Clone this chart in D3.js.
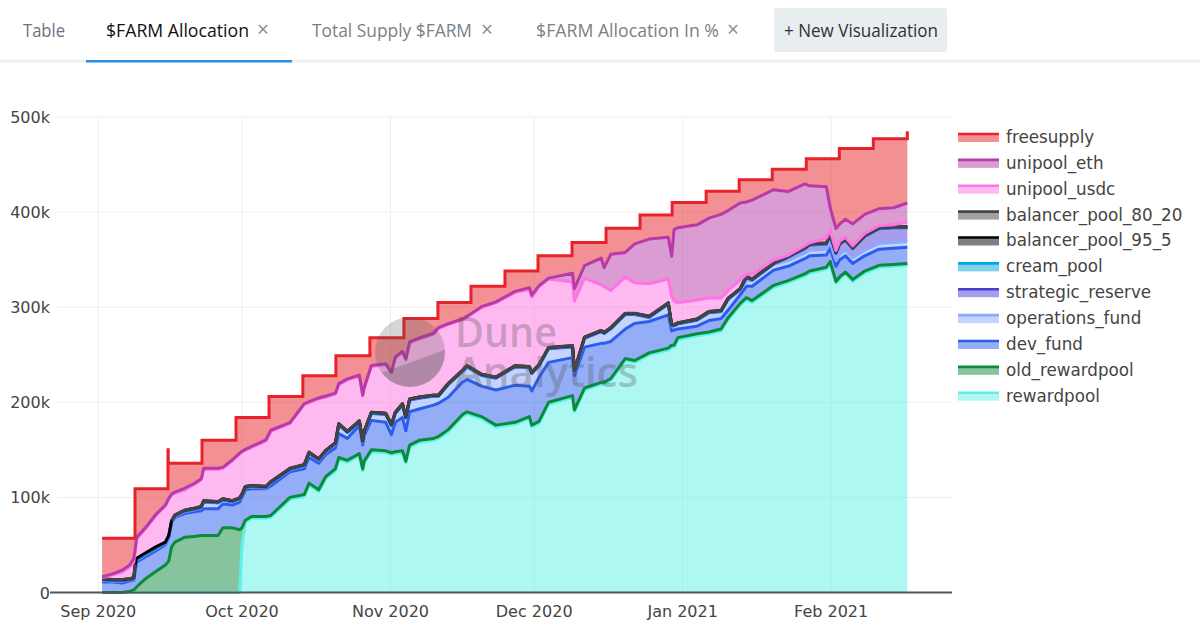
<!DOCTYPE html>
<html>
<head>
<meta charset="utf-8">
<script src="https://cdn.jsdelivr.net/npm/d3@7"></script>
<style>
  html, body { margin: 0; padding: 0; background: #fff; overflow: hidden; }
  svg { display: block; }
</style>
</head>
<body>
<svg id="chart" width="1200" height="629"></svg>
<script>
// values in thousands of $FARM. days = days since 1 Sep 2020
const days = [
  0.8,3,5,6.5,7.4,7.7,8,10,12,14,
  14.7,15.3,16,18,20,21.5,22,25,26,28,
  29.5,30,30.7,32,35,36,40,43,44,46,
  47.5,49.5,50.2,52,54.5,55.2,55.5,57,60,61.2,
  62,63.5,64.2,65,67,70,71,73,76,77,
  80,83,87,90,90.5,92,94,99,99.4,101.5,
  105,105.6,107,110,112,115,119,119.7,120.2,121,
  125,127.5,130,131.5,134,135.3,136.5,141,144,147.5,
  148.5,152,152.8,154,154.8,156,157.5,160,163,166,
  168.9
];
const rewardpool = [
  0,0,0,0,0,0,0,0,0,0,
  0,0,0,0,0,0,0,0,0,0,
  0,50,74,78,78,79,98,101,113,106,
  120,128,140,137,144,128,136,148,147,145,
  146,147,136,153,158,160,162,169,185,188,
  183,174,177,183,174,178,198,205,190,213,
  219,219,223,244,242,250,255,258,258,266,
  270,272,275,287,302,308,305,321,326,333,
  336,340,346,325,330,335,327,336,342,343,
  344
];
const old_rewardpool = [
  0,0,0,1,3,4,6,15,22,29,
  33,48,53,58,59,60,60,60,68,68,
  66,18,2,2,2,2,2,2,2,2,
  2,2,2,2,2,2,2,2,2,2,
  2,2,2,2,2,2,2,2,2,2,
  2,2,2,2,2,2,2,2,2,2,
  2,2,2,2,2,2,2,2,2,2,
  2,2,2,2,2,2,2,2,2,2,
  2,2,2,2,2,2,2,2,2,2,
  2
];
const dev_fund = [
  11,11,10,11,10,18,26,23,22,21,
  25,26,26,25,26,26,28,28,25,24,
  29,32,32,29,29,31,27,27,27,28,
  23,22,25,23,30,25,27,31,30,19,
  31,35,32,35,33,35,35,34,34,34,
  32,37,39,32,36,46,42,40,36,43,
  41,41,39,31,39,33,35,15,16,9,
  8,12,11,8,9,12,15,16,15,16,
  16,13,14,16,18,17,17,16,17,17,
  17
];
const operations_fund = [
  2,1,2,1,1,6,2,2,2,1,
  0,0,1,2,2,3,7,6,4,3,
  3,2,2,2,1,3,2,3,4,3,
  3,4,9,6,3,3,3,7,8,9,
  9,13,13,12,11,9,7,13,11,13,
  11,12,19,19,18,12,14,11,4,9,
  12,10,13,15,9,4,11,5,4,5,
  6,8,7,11,5,6,6,6,6,6,
  6,6,6,6,6,6,6,6,6,6,
  6
];
const strategic_reserve = [
  .5,.5,.5,.5,.5,.5,.5,.5,.5,.5,
  .5,.5,.5,.5,.5,.5,.5,.5,.5,.5,
  .5,.5,.5,.5,.5,.5,.5,.5,.5,.5,
  .5,.5,.5,.5,.5,.5,.5,.5,.5,.5,
  .5,.5,.5,.5,.5,.5,.5,.5,.5,.5,
  .5,.5,.5,.5,.5,.5,.5,.5,.5,.5,
  .5,.5,.5,.5,.5,.5,.5,.5,.5,.5,
  .5,.5,.5,.5,.5,3.5,.5,.5,3.5,4.5,
  5.5,5.5,7.5,7.5,10.5,10.5,9.5,14.5,15.5,15.5,
  14.5
];
const cream_pool = [
  .5,.5,.5,.5,.5,.5,.5,.5,.5,.5,
  .5,.5,.5,.5,.5,.5,.5,.5,.5,.5,
  .5,.5,.5,.5,.5,.5,.5,.5,.5,.5,
  .5,.5,.5,.5,.5,.5,.5,.5,.5,.5,
  .5,.5,.5,.5,.5,.5,.5,.5,.5,.5,
  .5,.5,.5,.5,.5,.5,.5,.5,.5,.5,
  .5,.5,.5,.5,.5,.5,.5,.5,.5,.5,
  .5,.5,.5,.5,.5,.5,.5,.5,.5,.5,
  .5,.5,.5,.5,.5,.5,.5,.5,.5,.5,
  .5
];
const balancer_pool_95_5 = [
  .5,.5,.5,.5,.5,.5,1,1,1,1,
  1,.5,.5,.5,.5,.5,.5,.5,.5,.5,
  .5,.5,.5,.5,.5,.5,.5,.5,.5,.5,
  .5,.5,.5,.5,.5,.5,.5,.5,.5,.5,
  .5,.5,.5,.5,.5,.5,.5,.5,.5,.5,
  .5,.5,.5,.5,.5,.5,.5,.5,.5,.5,
  .5,.5,.5,.5,.5,.5,.5,.5,.5,.5,
  .5,.5,.5,.5,.5,.5,.5,.5,.5,.5,
  .5,.5,.5,.5,.5,.5,.5,.5,.5,.5,
  .5
];
// no 80/20 pool yet for a week in September, so no line there
const balancer_pool_80_20 = [
  .1,.1,.1,.1,.1,.1,null,null,null,null,
  null,.1,.1,.1,.1,.1,.1,.1,.1,.1,
  .1,.1,.1,.1,.1,.1,.1,.1,.1,.1,
  .1,.1,.1,.1,.1,.1,.1,.1,.1,.1,
  .1,.1,.1,.1,.1,.1,.1,.1,.1,.1,
  .1,.1,.1,.1,.1,.1,.1,.1,.1,.1,
  .1,.1,.1,.1,.1,.1,.1,.1,.1,.1,
  .1,.1,.1,.1,.1,.1,.1,.1,.1,.1,
  .1,.1,.1,.1,.1,.1,.1,.1,.1,.1,
  .1
];
const unipool_usdc = [
  1,5,8,12,16,14,20,26,33,38,
  38,27,23,21,25,28,33,34,32,42,
  46,44,38,40,48,53,47,63,52,63,
  56,51,41,54,47,47,45,48,51,54,
  57,54,60,59,61,64,70,62,53,51,
  70,78,77,81,79,82,72,67,73,62,
  48,48,39,38,32,34,25,30,25,21,
  20,14,13,8,9,2,5,3,1,2,
  1,5,4,2,2,2,2,2,2,2,
  5
];
const unipool_eth = [
  1,1,2,2,4,2,2,1,1,1,
  1,1,1,2,1,1,1,1,1,1,
  1,1,1,1,1,1,1,1,1,1,
  1,1,1,1,1,1,1,1,1,1,
  1,1,1,1,1,1,1,1,1,1,
  1,1,1,2,2,1,1,9,13,13,
  28,20,38,26,41,47,44,42,75,79,
  79,84,88,84,81,76,78,74,67,65,
  60,54,24,23,18,19,23,20,18,18,
  20
];
// freesupply is the weekly staircase on top of the stack (running total)
const supplyDays = [
  0.8,7.66,14.55,14.6,21.65,28.75,35.64,42.7,49.6,56.7,63.8,70.9,77.8,
  84.9,91.8,98.9,106,113.1,119.8,126.9,133.8,140.7,147.8,154.7,161.8,168.9
];
const supplyTotal = [
  57,109,150,136,160,184,206,228,249,268,288,305,322,
  338,354,368,383,397,410,422,434,445,456,467,477,485
];

const stackKeys = ["rewardpool","old_rewardpool","dev_fund","operations_fund","strategic_reserve",
  "cream_pool","balancer_pool_95_5","balancer_pool_80_20","unipool_usdc","unipool_eth"];
const stackValues = [rewardpool,old_rewardpool,dev_fund,operations_fund,strategic_reserve,
  cream_pool,balancer_pool_95_5,balancer_pool_80_20,unipool_usdc,unipool_eth];
const legendNames = ["freesupply","unipool_eth","unipool_usdc","balancer_pool_80_20","balancer_pool_95_5",
  "cream_pool","strategic_reserve","operations_fund","dev_fund","old_rewardpool","rewardpool"];
const colors = {
  freesupply: "#e8222a", unipool_eth: "#b83aa8", unipool_usdc: "#ff73e3",
  balancer_pool_80_20: "#444444", balancer_pool_95_5: "#000000", cream_pool: "#00a8e0",
  strategic_reserve: "#4d3bd8", operations_fund: "#8ca8ff", dev_fund: "#2a5cf0",
  old_rewardpool: "#0b8a3a", rewardpool: "#5cf2e8"
};
const yTicks = [0,100,200,300,400,500];
const xTicks = ["2020-09-01","2020-10-01","2020-11-01","2020-12-01","2021-01-01","2021-02-01"];
const tabs = [
  {label: "Table", x: 23, w: 42, color: "#6b7280"},
  {label: "$FARM Allocation", x: 106, w: 143, color: "#111111"},
  {label: "Total Supply $FARM", x: 312, w: 160, color: "#7a7f85"},
  {label: "$FARM Allocation In %", x: 536, w: 183, color: "#7a7f85"}
];
const tabCloseX = [263, 487, 733];

stackValues.forEach(v => { if (v.length !== days.length) throw new Error("bad length " + v.length); });

const svg = d3.select("#chart");
const parseDay = d3.utcParse("%Y-%m-%d");
const sep1 = parseDay("2020-09-01");
const toDate = d => new Date(+sep1 + d * 864e5);

const plot = {left: 57, right: 952, top: 117, bottom: 592.5};
const x = d3.scaleUtc()
  .domain([toDate((plot.left - 98.3) / 4.79), toDate((plot.right - 98.3) / 4.79)])
  .range([plot.left, plot.right]);
const y = d3.scaleLinear().domain([0, 500]).range([plot.bottom, plot.top]);

// tab bar
svg.append("rect").attr("x", 0).attr("y", 60).attr("width", 1200).attr("height", 2.5).attr("fill", "#edf0f2");
svg.append("rect").attr("x", 86).attr("y", 60).attr("width", 206).attr("height", 2.5).attr("fill", "#2d8fe8");
svg.selectAll(".tab").data(tabs).join("text")
  .attr("class", "tab")
  .attr("x", d => d.x).attr("y", 36.5)
  .attr("textLength", d => d.w).attr("lengthAdjust", "spacingAndGlyphs")
  .attr("font-family", "'Open Sans', sans-serif").attr("font-size", 17.5)
  .attr("fill", d => d.color)
  .text(d => d.label);
svg.selectAll(".tabclose").data(tabCloseX).join("text")
  .attr("class", "tabclose")
  .attr("x", d => d).attr("y", 37).attr("text-anchor", "middle")
  .attr("font-family", "'Open Sans', sans-serif").attr("font-size", 21).attr("fill", "#8a8f94")
  .text("×");
svg.append("rect").attr("x", 774).attr("y", 8).attr("width", 173).attr("height", 44).attr("rx", 3).attr("fill", "#e8edf0");
svg.append("text").attr("x", 784).attr("y", 36.5)
  .attr("textLength", 154).attr("lengthAdjust", "spacingAndGlyphs")
  .attr("font-family", "'Open Sans', sans-serif").attr("font-size", 17.5).attr("fill", "#2f3338")
  .text("+ New Visualization");

// grid
svg.selectAll(".gx").data(xTicks).join("line")
  .attr("class", "gx")
  .attr("x1", d => x(parseDay(d))).attr("x2", d => x(parseDay(d)))
  .attr("y1", plot.top).attr("y2", plot.bottom)
  .attr("stroke", "#eeeeee").attr("stroke-width", 1);
svg.selectAll(".gy").data(yTicks.slice(1)).join("line")
  .attr("class", "gy")
  .attr("x1", plot.left).attr("x2", plot.right)
  .attr("y1", d => y(d)).attr("y2", d => y(d))
  .attr("stroke", "#eeeeee").attr("stroke-width", 1);

// stack
const rows = days.map((d, i) => {
  const row = {date: toDate(d)};
  stackKeys.forEach((k, j) => { row[k] = stackValues[j][i]; });
  return row;
});
const series = d3.stack().keys(stackKeys).value((d, k) => d[k] || 0)(rows);

const area = d3.area()
  .x(d => x(d.data.date))
  .y0(d => y(d[0]))
  .y1(d => y(d[1]));
const topLine = d3.line()
  .x(d => x(d.data.date))
  .y(d => y(d[1]));

// freesupply sits between the staircase and the top of the stack
const stepPts = [];
supplyDays.forEach((d, i) => {
  if (i > 0) stepPts.push([x(toDate(d)), y(supplyTotal[i - 1])]);
  stepPts.push([x(toDate(d)), y(supplyTotal[i])]);
});
const ethTop = series[series.length - 1].map(d => [x(d.data.date), y(d[1])]).reverse();

// all fills first, lines on top so the fills don't wash them out
series.forEach(s => {
  svg.append("path").attr("d", area(s)).attr("fill", colors[s.key]).attr("fill-opacity", 0.5);
});
svg.append("path").attr("d", d3.line()(stepPts.concat(ethTop)) + "Z")
  .attr("fill", colors.freesupply).attr("fill-opacity", 0.5);

series.forEach(s => {
  svg.append("path")
    .attr("d", topLine.defined(d => d.data[s.key] !== null)(s))
    .attr("fill", "none").attr("stroke", colors[s.key]).attr("stroke-width", 3).attr("stroke-linejoin", "round");
});
svg.append("path").attr("d", d3.line()(stepPts))
  .attr("fill", "none").attr("stroke", colors.freesupply).attr("stroke-width", 3).attr("stroke-linejoin", "miter");

// axes
const tickFont = "'DejaVu Sans', Verdana, sans-serif";
svg.append("line").attr("x1", plot.left - 7).attr("x2", plot.right)
  .attr("y1", plot.bottom).attr("y2", plot.bottom)
  .attr("stroke", "#555555").attr("stroke-width", 1.8);
svg.selectAll(".yl").data(yTicks).join("text")
  .attr("class", "yl")
  .attr("x", 50).attr("y", d => y(d) + 6).attr("text-anchor", "end")
  .attr("font-family", tickFont).attr("font-size", 16).attr("fill", "#444444")
  .text(d => d === 0 ? "0" : d + "k");
svg.selectAll(".xl").data(xTicks).join("text")
  .attr("class", "xl")
  .attr("x", d => x(parseDay(d))).attr("y", 617).attr("text-anchor", "middle")
  .attr("font-family", tickFont).attr("font-size", 16).attr("fill", "#444444")
  .text(d => d3.utcFormat("%b %Y")(parseDay(d)));

// watermark
const mark = svg.append("g");
mark.append("clipPath").attr("id", "markClip").append("path").attr("d", "M370,377L450,348V400H370Z");
mark.append("circle").attr("cx", 410).attr("cy", 352).attr("r", 35).attr("fill", "#555555").attr("fill-opacity", 0.24);
mark.append("circle").attr("cx", 410).attr("cy", 352).attr("r", 35).attr("clip-path", "url(#markClip)")
  .attr("fill", "#555555").attr("fill-opacity", 0.3);
mark.append("text").attr("x", 455).attr("y", 347)
  .attr("textLength", 102).attr("lengthAdjust", "spacingAndGlyphs")
  .attr("font-family", "'Open Sans', sans-serif").attr("font-weight", 600).attr("font-size", 42)
  .attr("fill", "#555555").attr("fill-opacity", 0.32)
  .text("Dune");
mark.append("text").attr("x", 455).attr("y", 387)
  .attr("textLength", 183).attr("lengthAdjust", "spacingAndGlyphs")
  .attr("font-family", "'Open Sans', sans-serif").attr("font-weight", 600).attr("font-size", 42)
  .attr("fill", "#555555").attr("fill-opacity", 0.32)
  .text("Analytics");

// legend
const legend = svg.selectAll(".legend").data(legendNames).join("g")
  .attr("class", "legend")
  .attr("transform", (d, i) => `translate(958,${137 + i * 25.87})`);
legend.append("rect").attr("x", 0).attr("y", -3).attr("width", 41).attr("height", 8)
  .attr("fill", d => colors[d]).attr("fill-opacity", 0.5);
legend.append("line").attr("x1", 0).attr("x2", 41).attr("y1", -3).attr("y2", -3)
  .attr("stroke", d => colors[d]).attr("stroke-width", 2.6);
legend.append("text").attr("x", 48).attr("y", 6)
  .attr("font-family", tickFont).attr("font-size", 16.75).attr("fill", "#444444")
  .text(d => d);
</script>
</body>
</html>
